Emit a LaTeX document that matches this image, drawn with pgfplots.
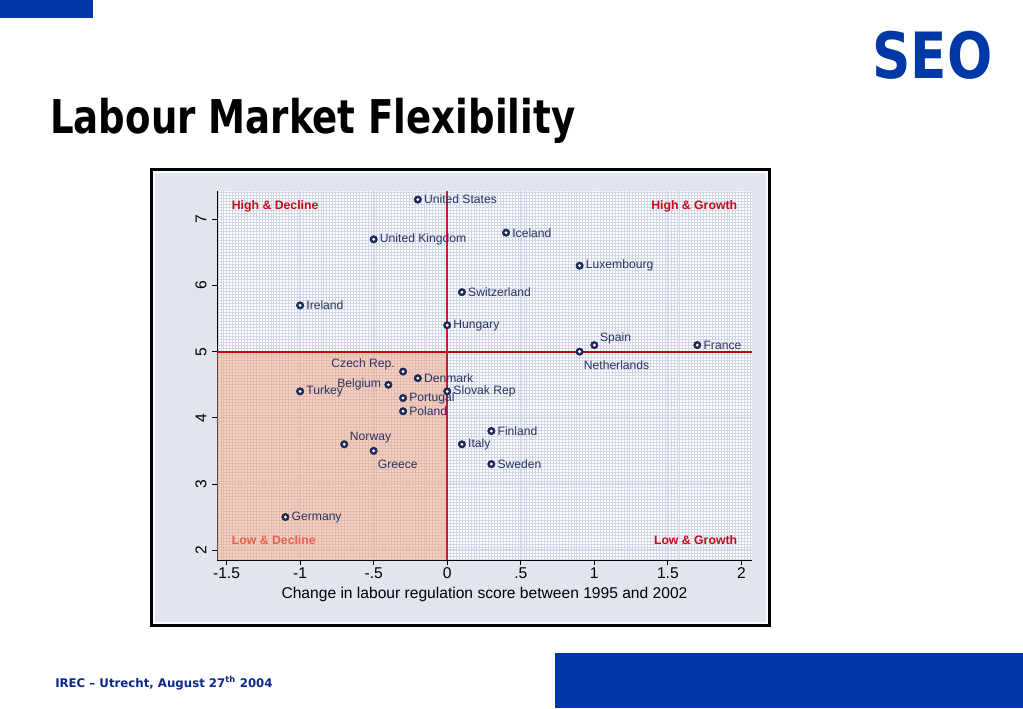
\documentclass[border=0pt]{standalone}
\usepackage{pgfplots}
\pgfplotsset{compat=1.18}
\usepackage{pgfplotstable}
\usepackage{fontspec}
\setmainfont{Liberation Sans}
\newfontfamily\dejavu{DejaVu Sans}

\definecolor{seoblue}{RGB}{0,56,168}
\definecolor{footblue}{RGB}{10,40,140}
\definecolor{navy}{RGB}{28,40,86}
\definecolor{labnavy}{RGB}{40,52,100}
\definecolor{qred}{RGB}{200,8,28}
\definecolor{qredlight}{RGB}{222,50,50}
\definecolor{lred}{RGB}{200,25,55}
\definecolor{framebg}{RGB}{224,229,238}
\definecolor{salmon}{RGB}{245,155,115}
\definecolor{minorgrid}{RGB}{208,215,230}
\definecolor{majorgrid}{RGB}{214,220,231}

% labels to the right
\pgfplotstableread[col sep=comma]{
x,y,name
-0.2,7.3,United States
-0.5,6.7,United Kingdom
0.4,6.8,Iceland
0.9,6.3,Luxembourg
0.1,5.9,Switzerland
-1.0,5.7,Ireland
0.0,5.4,Hungary
1.7,5.1,France
-0.2,4.6,Denmark
-1.0,4.4,Turkey
0.0,4.4,Slovak Rep
-0.3,4.3,Portugal
-0.3,4.1,Poland
0.3,3.8,Finland
0.1,3.6,Italy
0.3,3.3,Sweden
-1.1,2.5,Germany
}\rightlab
% labels above right
\pgfplotstableread[col sep=comma]{
x,y,name
1.0,5.1,Spain
-0.7,3.6,Norway
}\aboverightlab
% labels below right
\pgfplotstableread[col sep=comma]{
x,y,name
0.9,5.0,Netherlands
-0.5,3.5,Greece
}\belowrightlab
% label above left
\pgfplotstableread[col sep=comma]{
x,y,name
-0.3,4.7,Czech Rep.
}\aboveleftlab
% label left
\pgfplotstableread[col sep=comma]{
x,y,name
-0.4,4.5,Belgium
}\leftlab

\pgfplotsset{
  country/.style={only marks, mark=*, mark size=2.8pt,
    mark options={fill=navy, draw=navy},
    point meta=explicit symbolic, nodes near coords,
    every node near coord/.style={font=\fontsize{9.1}{10}\selectfont,
      text=labnavy, inner sep=1.5pt, #1}},
  ring/.style={only marks, mark=oplus, mark size=0.95pt,
    mark options={draw=white, line width=0.35pt}},
}

\begin{document}
\begin{tikzpicture}
\path[use as bounding box] (0,0) rectangle (767.25pt,-531pt);
\begin{scope}[x=0.75pt,y=-0.75pt]
  \fill[white] (0,0) rectangle (1023,708);
  \fill[seoblue] (0,0) rectangle (93,18);
  \node[anchor=base west, inner sep=0pt] at (50,133)
    {\resizebox{393.75pt}{26.5pt}{\dejavu\bfseries Labour Market Flexibility}};
  \node[anchor=base west, inner sep=0pt] at (872,78)
    {\resizebox{90pt}{35.5pt}{\dejavu\bfseries\color{seoblue}SEO}};
  \fill[seoblue] (555,653) rectangle (1023,708);
  \node[anchor=base west, inner sep=0pt] at (55,687)
    {\resizebox{163pt}{8pt}{\dejavu\bfseries\color{footblue}IREC – Utrecht, August 27\textsuperscript{th} 2004}};
  \fill[black] (150,168) rectangle (771,627);
  \fill[white!85!framebg] (153,171) rectangle (768,624);
  \fill[framebg] (155,173) rectangle (766,622);
\end{scope}

\begin{axis}[
  at={(162.75pt,-420pt)}, anchor=south west,
  scale only axis, width=401.25pt, height=276.75pt,
  xmin=-1.565, xmax=2.072, ymin=1.85, ymax=7.43,
  axis background/.style={fill=white},
  axis x line*=bottom, axis y line*=left,
  axis line style={black, line width=0.6pt},
  xtick={-1.5,-1,-0.5,0,0.5,1,1.5,2},
  xticklabels={-1.5,-1,-.5,0,.5,1,1.5,2},
  ytick={2,3,4,5,6,7},
  yticklabels={2,3,4,5,6,7},
  minor xtick={-1.56,-1.54,...,2.07},
  minor ytick={1.8636,1.9091,...,7.43},
  grid=both,
  major grid style={majorgrid, line width=1pt},
  minor grid style={minorgrid, line width=0.25pt},
  tick align=outside,
  major tick length=3.75pt, minor tick length=0pt,
  tick style={black, line width=0.6pt},
  ticklabel style={font=\fontsize{11.7}{14}\selectfont, text=black},
  yticklabel style={rotate=90, anchor=south, inner sep=4pt},
  xticklabel style={inner sep=1.5pt},
  xlabel={Change in labour regulation score between 1995 and 2002},
  xlabel style={at={(rel axis cs:0.5,0)}, anchor=base, yshift=-28.5pt,
    font=\fontsize{11.7}{14}\selectfont},
  clip=false,
]
\addplot[country={anchor=west, xshift=3pt}] table[x=x, y=y, meta=name] {\rightlab};
\addplot[ring] table[x=x, y=y] {\rightlab};
\addplot[country={anchor=west, xshift=2.6pt, yshift=5.25pt}] table[x=x, y=y, meta=name] {\aboverightlab};
\addplot[ring] table[x=x, y=y] {\aboverightlab};
\addplot[country={anchor=west, xshift=1.5pt, yshift=-9.75pt}] table[x=x, y=y, meta=name] {\belowrightlab};
\addplot[ring] table[x=x, y=y] {\belowrightlab};
\addplot[country={anchor=east, xshift=-4.5pt, yshift=5.25pt}] table[x=x, y=y, meta=name] {\aboveleftlab};
\addplot[ring] table[x=x, y=y] {\aboveleftlab};
\addplot[country={anchor=east, xshift=-3.75pt}] table[x=x, y=y, meta=name] {\leftlab};
\addplot[ring] table[x=x, y=y] {\leftlab};
\node[anchor=west, font=\fontsize{9.2}{10}\selectfont\bfseries, text=qredlight]
  at (rel axis cs:0.019,0.054) {Low \& Decline};
\addplot[draw=none, fill=salmon, fill opacity=0.45]
  coordinates {(-1.565,1.85) (0,1.85) (0,5) (-1.565,5) (-1.565,1.85)};
\addplot[color=red!78!black, line width=1.5pt, mark=none, solid]
  coordinates {(-1.565,5.003) (2.072,5.003)};
\addplot[color=lred, line width=1.1pt, mark=none, solid]
  coordinates {(0,1.85) (0,7.43)};
\node[anchor=west, font=\fontsize{9.2}{10}\selectfont\bfseries, text=qred]
  at (rel axis cs:0.019,0.959) {High \& Decline};
\node[anchor=east, font=\fontsize{9.2}{10}\selectfont\bfseries, text=qred]
  at (rel axis cs:0.981,0.959) {High \& Growth};
\node[anchor=east, font=\fontsize{9.2}{10}\selectfont\bfseries, text=qred]
  at (rel axis cs:0.981,0.054) {Low \& Growth};
\end{axis}
\end{tikzpicture}
\end{document}
